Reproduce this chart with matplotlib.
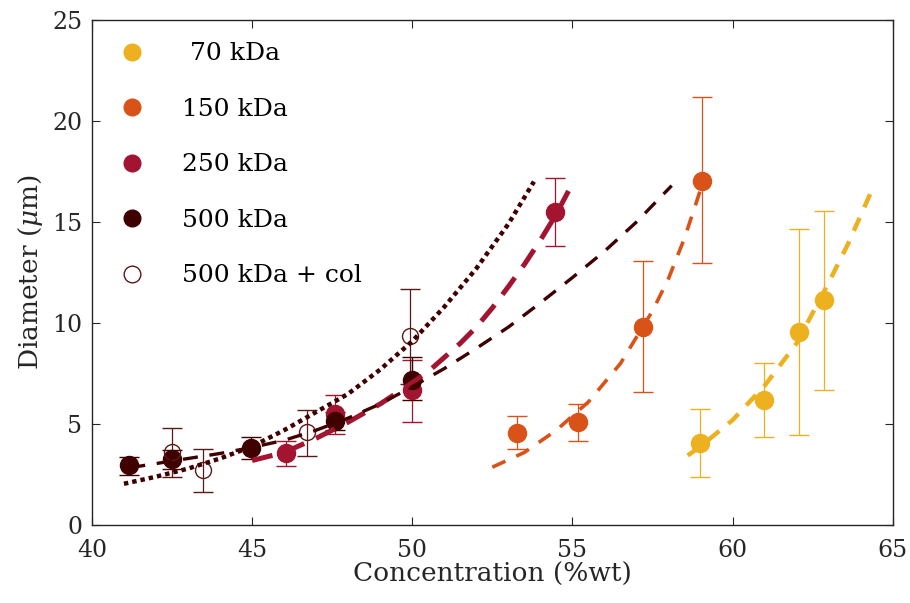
import matplotlib
matplotlib.use('Agg')
import matplotlib.pyplot as plt
from matplotlib.lines import Line2D

plt.rcParams['font.family'] = 'DejaVu Serif'
plt.rcParams['mathtext.fontset'] = 'dejavuserif'

# colours per molecular weight
c70 = '#EDB120'
c150 = '#D95319'
c250 = '#A2142F'
c500 = '#3F0000'

# measured diameters (x = concentration %wt, y = diameter um, upper/lower error bar ends)
x70 = [58.97, 60.97, 62.06, 62.87]
y70 = [4.06, 6.19, 9.55, 11.14]
hi70 = [5.74, 8.02, 14.65, 15.55]
lo70 = [2.38, 4.36, 4.46, 6.68]

x150 = [53.28, 55.16, 57.2, 59.06]
y150 = [4.55, 5.1, 9.8, 17.03]
hi150 = [5.4, 5.99, 13.07, 21.2]
lo150 = [3.76, 4.16, 6.58, 12.97]

x250 = [46.06, 47.6, 50.0, 54.47]
y250 = [3.56, 5.5, 6.68, 15.5]
hi250 = [4.16, 6.44, 8.17, 17.2]
lo250 = [2.92, 4.5, 5.1, 13.8]

x500 = [41.15, 42.5, 44.97, 47.6, 50.0]
y500 = [2.97, 3.27, 3.8, 5.15, 7.18]
hi500 = [3.37, 3.7, 4.35, 5.6, 8.3]
lo500 = [2.5, 2.8, 3.27, 4.7, 6.2]

x500c = [42.5, 43.47, 46.7, 49.94]
y500c = [3.6, 2.72, 4.6, 9.36]
hi500c = [4.8, 3.76, 5.69, 11.7]
lo500c = [2.4, 1.63, 3.41, 7.0]

# fitted curves
fx70 = [58.6, 59.0, 60.0, 61.0, 62.0, 63.0, 63.6, 64.3]
fy70 = [3.45, 3.9, 5.2, 6.9, 9.0, 12.0, 13.9, 16.4]

fx150 = [52.5, 53.5, 54.5, 55.5, 56.5, 57.5, 58.0, 58.5, 59.0]
fy150 = [2.87, 3.6, 4.7, 6.1, 8.0, 10.6, 12.2, 14.2, 16.6]

fx250 = [45.0, 46.0, 47.0, 48.0, 49.0, 50.0, 50.5, 51.0, 51.5, 52.0, 52.5, 53.0, 53.5, 54.0, 54.5, 54.9]
fy250 = [3.2, 3.6, 4.3, 5.1, 6.0, 7.05, 7.6, 8.3, 9.0, 9.8, 10.75, 11.8, 12.9, 14.1, 15.4, 16.6]

fx500 = [41.2, 42, 43, 44, 45, 46, 47, 48, 49, 50, 51, 52, 53, 54, 55, 56, 57, 58.1]
fy500 = [2.85, 3.05, 3.3, 3.55, 3.85, 4.2, 4.7, 5.3, 6.0, 6.85, 7.75, 8.75,
         9.8, 11.0, 12.25, 13.55, 15.0, 16.8]

fx500c = [41, 42, 43, 44, 45, 46, 47, 48, 49, 50, 51, 52, 53, 53.8]
fy500c = [2.05, 2.4, 2.8, 3.3, 3.9, 4.7, 5.6, 6.5, 7.7, 9.1, 10.8, 12.7, 14.9, 17.0]

labels = [' 70 kDa', '150 kDa', '250 kDa', '500 kDa', '500 kDa + col']

fig = plt.figure(figsize=(9.1, 6.03), dpi=100)
ax = fig.add_axes([0.101, 0.129, 0.880, 0.838])


def draw_err(x, y, hi, lo, col, face, ms):
    yerr = [[a - b for a, b in zip(y, lo)], [b - a for a, b in zip(y, hi)]]
    ax.errorbar(x, y, yerr=yerr, fmt='o', color=col, ecolor=col, mfc=face,
                mec=col, ms=ms, mew=1.0, elinewidth=0.9, capsize=7, capthick=0.9,
                zorder=3)


draw_err(x70, y70, hi70, lo70, c70, c70, 13)
draw_err(x150, y150, hi150, lo150, c150, c150, 13)
draw_err(x250, y250, hi250, lo250, c250, c250, 13)
draw_err(x500, y500, hi500, lo500, c500, c500, 13)
draw_err(x500c, y500c, hi500c, lo500c, '#5A1A1A', 'none', 11.5)

ax.plot(fx70, fy70, color=c70, lw=3.2, dashes=(3.2, 2.6), zorder=4)
ax.plot(fx150, fy150, color=c150, lw=2.6, dashes=(4.0, 3.3), zorder=4)
ax.plot(fx250, fy250, color=c250, lw=3.6, dashes=(4.2, 2.6), zorder=4)
ax.plot(fx500, fy500, color=c500, lw=2.4, dashes=(4.5, 3.5), zorder=4)
ax.plot(fx500c, fy500c, color=c500, lw=3.2, dashes=(1, 0.9), zorder=4)

ax.set_xlim(40, 65)
ax.set_ylim(0, 25)
ax.set_xticks([40, 45, 50, 55, 60, 65])
ax.set_yticks([0, 5, 10, 15, 20, 25])
ax.tick_params(direction='in', length=6, width=0.8, top=True, right=True,
               labelsize=17, colors='#262626')
ax.tick_params(axis='x', pad=10)
ax.tick_params(axis='y', pad=7)
for s in ax.spines.values():
    s.set_color('#262626')
    s.set_linewidth(1.0)

ax.set_xlabel('Concentration (%wt)', fontsize=19, color='#262626', labelpad=0)
ax.set_ylabel(r'Diameter ($\mu$m)', fontsize=19, color='#262626', labelpad=5)

handles = [
    Line2D([], [], ls='none', marker='o', ms=12, color=c70),
    Line2D([], [], ls='none', marker='o', ms=12, color=c150),
    Line2D([], [], ls='none', marker='o', ms=12, color=c250),
    Line2D([], [], ls='none', marker='o', ms=12, color=c500),
    Line2D([], [], ls='none', marker='o', ms=12, mfc='none', mec='#5A1A1A', mew=1.0),
]
ax.legend(handles, labels, loc='upper left', frameon=False, fontsize=18,
          handletextpad=1.3, labelspacing=1.3, borderpad=0.6,
          borderaxespad=0.3, handlelength=1.4)

fig.savefig('out.png', dpi=100)
